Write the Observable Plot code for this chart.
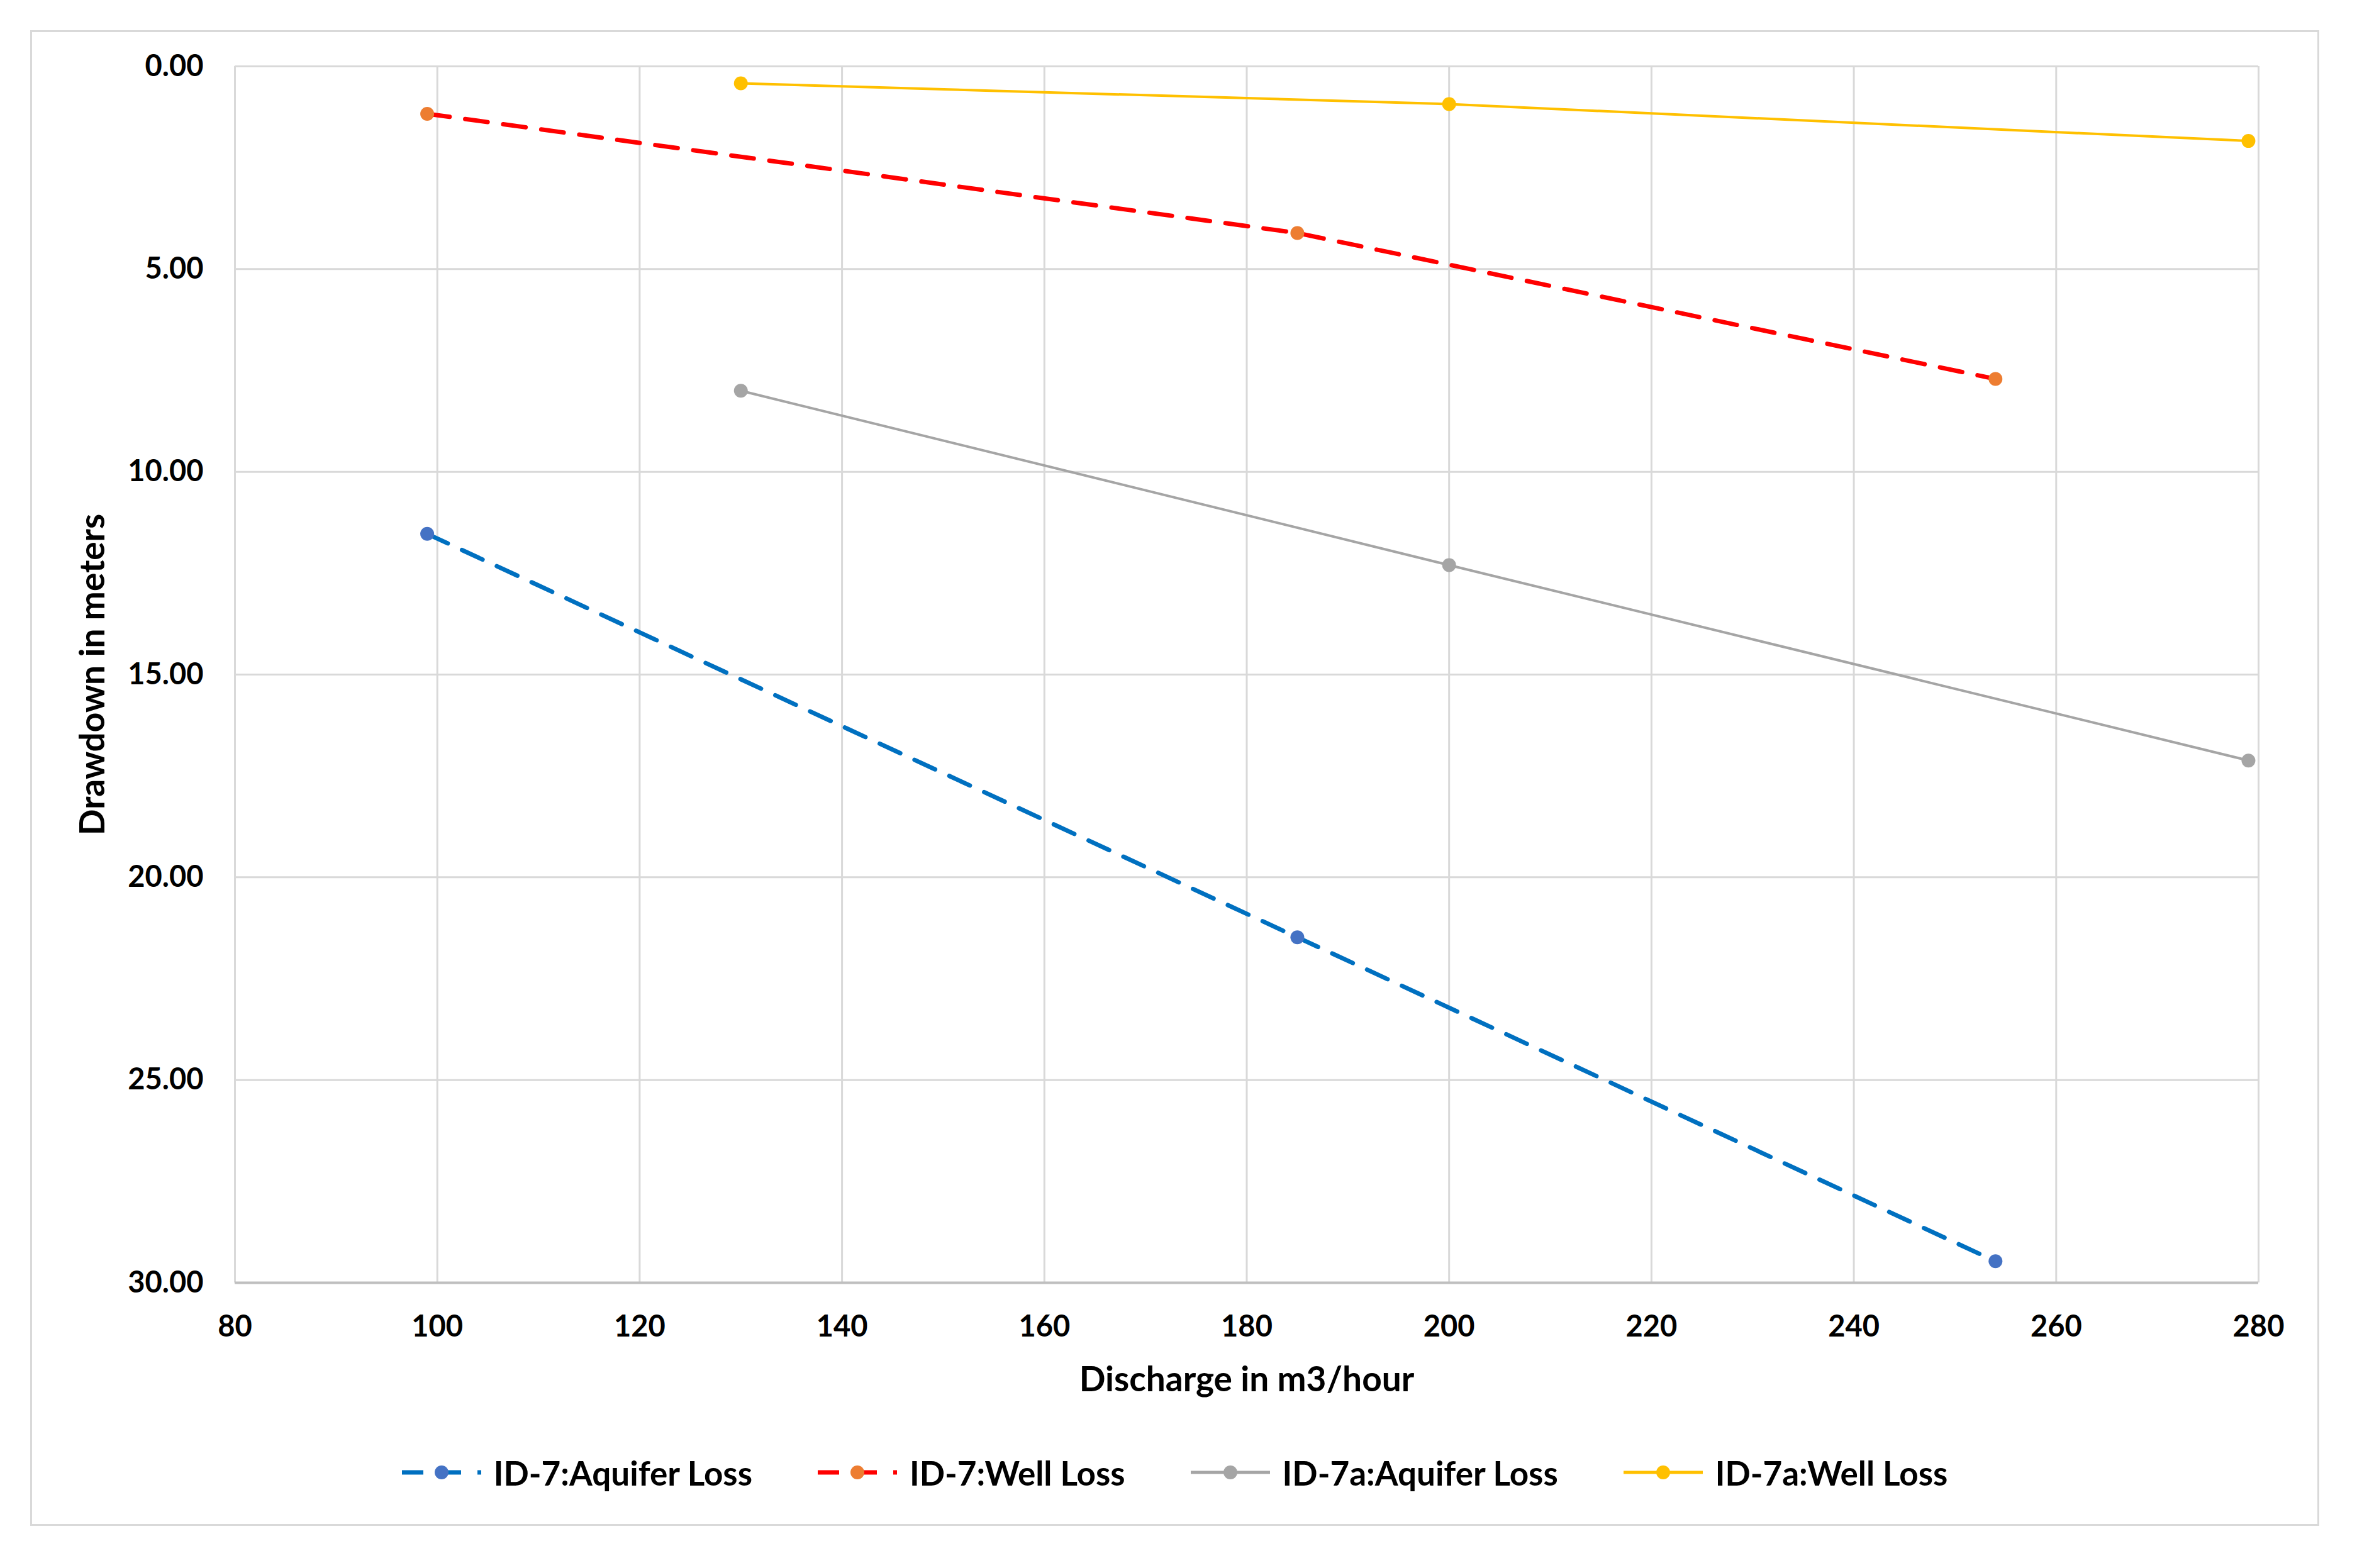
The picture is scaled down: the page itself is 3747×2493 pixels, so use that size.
<!DOCTYPE html>
<html>
<head>
<meta charset="utf-8">
<script src="https://cdn.jsdelivr.net/npm/d3@7"></script>
<script src="https://cdn.jsdelivr.net/npm/@observablehq/plot@0.6"></script>
<style>
  html, body { margin: 0; padding: 0; background: #ffffff; }
  #frame {
    position: absolute; left: 48px; top: 48px;
    width: 3633px; height: 2372px;
    border: 3px solid #d9d9d9; background: #fff;
  }
  #legend {
    display: flex; justify-content: center; align-items: center;
    height: 100px; font-family: Lato, "Open Sans", sans-serif;
    font-weight: bold; font-size: 53px; color: #000;
  }
  .item { display: flex; align-items: center; margin: 0 52px; }
  .item svg { margin-right: 20px; }
</style>
</head>
<body>
<div id="frame"><div id="chart"></div><div id="legend"></div></div>
<script>
// Data
const xTicks = [80, 100, 120, 140, 160, 180, 200, 220, 240, 260, 280];
const yTicks = [0, 5, 10, 15, 20, 25, 30];

const id7Discharge = [99, 185, 254];
const id7AquiferLoss = [11.53, 21.48, 29.47];
const id7WellLoss = [1.17, 4.11, 7.71];

const id7aDischarge = [130, 200, 279];
const id7aAquiferLoss = [8.0, 12.3, 17.12];
const id7aWellLoss = [0.42, 0.93, 1.84];

const seriesNames = ["ID-7:Aquifer Loss", "ID-7:Well Loss", "ID-7a:Aquifer Loss", "ID-7a:Well Loss"];
const lineColors = ["#0070C0", "#FF0000", "#A5A5A5", "#FFC000"];
const markerColors = ["#4472C4", "#ED7D31", "#A5A5A5", "#FFC000"];
const dashed = [true, true, false, false];

const toRows = (qs, ds) => qs.map((q, i) => ({q, d: ds[i]}));
const series = [
  toRows(id7Discharge, id7AquiferLoss),
  toRows(id7Discharge, id7WellLoss),
  toRows(id7aDischarge, id7aAquiferLoss),
  toRows(id7aDischarge, id7aWellLoss)
];

const marks = [
  Plot.gridX(xTicks, {stroke: "#d9d9d9", strokeOpacity: 1, strokeWidth: 3}),
  Plot.gridY(yTicks, {stroke: "#d9d9d9", strokeOpacity: 1, strokeWidth: 3}),
  Plot.ruleY([30], {stroke: "#bfbfbf", strokeWidth: 4}),
  Plot.axisX(xTicks, {tickSize: 0, tickPadding: 52, fontSize: 47, fontWeight: "bold", label: null}),
  Plot.axisY(yTicks, {tickSize: 0, tickPadding: 50, fontSize: 47, fontWeight: "bold", label: null, tickFormat: d => d.toFixed(2)}),
  Plot.text(["Discharge in m3/hour"], {frameAnchor: "bottom", dy: 172, fontSize: 55, fontWeight: "bold"}),
  Plot.text(["Drawdown in meters"], {frameAnchor: "left", textAnchor: "middle", dx: -225, rotate: -90, fontSize: 55, fontWeight: "bold"})
];
series.forEach((rows, i) => {
  marks.push(Plot.line(rows, {
    x: "q", y: "d", stroke: lineColors[i],
    strokeWidth: dashed[i] ? 7 : 4,
    strokeDasharray: dashed[i] ? "36,25" : null
  }));
  marks.push(Plot.dot(rows, {x: "q", y: "d", r: 11, fill: markerColors[i], stroke: "none"}));
});

const chart = Plot.plot({
  width: 3633, height: 2240,
  marginLeft: 322, marginRight: 94, marginTop: 54, marginBottom: 252,
  x: {domain: [80, 280]},
  y: {domain: [0, 30], reverse: true},
  style: {fontFamily: "Lato, 'Open Sans', sans-serif", color: "#000", background: "#fff"},
  marks
});
document.getElementById("chart").appendChild(chart);

// Legend
const legend = document.getElementById("legend");
seriesNames.forEach((name, i) => {
  const item = document.createElement("div");
  item.className = "item";
  const dash = dashed[i] ? `stroke-dasharray="34,26"` : "";
  item.innerHTML = `<svg width="126" height="30" viewBox="0 0 126 30">
    <line x1="0" y1="15" x2="126" y2="15" stroke="${lineColors[i]}" stroke-width="${dashed[i] ? 7 : 5}" ${dash}/>
    <circle cx="63" cy="15" r="11" fill="${markerColors[i]}"/></svg><span>${name}</span>`;
  legend.appendChild(item);
});
</script>
</body>
</html>
